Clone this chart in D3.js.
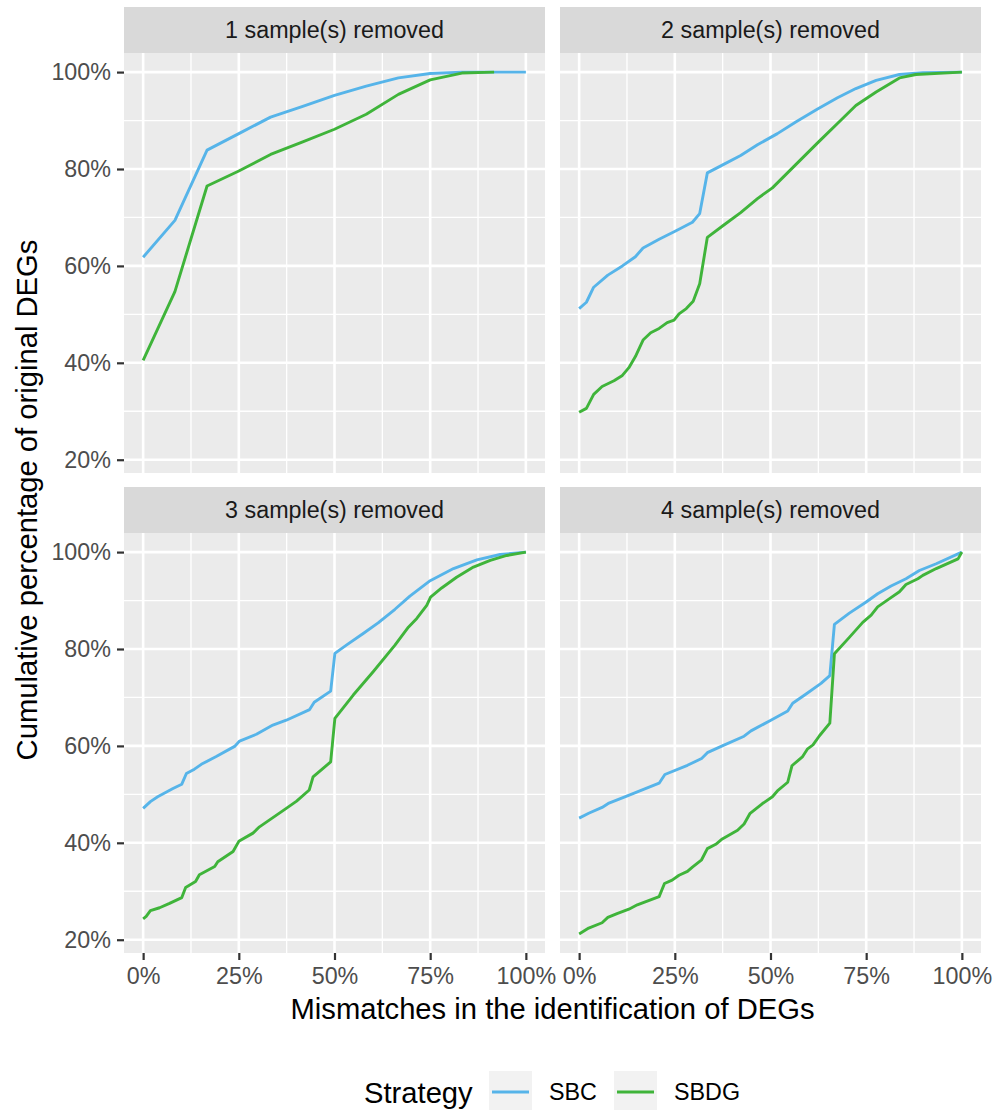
<!DOCTYPE html>
<html>
<head>
<meta charset="utf-8">
<script src="https://cdn.jsdelivr.net/npm/d3@7"></script>
<style>
  body { margin: 0; background: #fff; }
  text { font-family: "Liberation Sans", Arial, sans-serif; }
</style>
</head>
<body>
<div id="chart"></div>
<script>
// facet labels, series names, ticks
var facets = ["1 sample(s) removed", "2 sample(s) removed", "3 sample(s) removed", "4 sample(s) removed"];
var strategies = ["SBC", "SBDG"];
var colors = ["#56B4E9", "#3FB43A"];
var xTicks = [0, 25, 50, 75, 100];
var xMinor = [12.5, 37.5, 62.5, 87.5];
var yTicks = [20, 40, 60, 80, 100];
var yMinor = [30, 50, 70, 90];

// [mismatch %, cumulative %]
var sbc1 = [[0,61.8],[8.3,69.4],[16.7,83.9],[25,87.3],[33.3,90.7],[41.7,92.9],[50,95.2],[58.3,97.1],[66.7,98.8],[75,99.7],[83.3,100],[91.7,100],[100,100]];
var sbdg1 = [[0,40.5],[8.3,54.7],[16.7,76.5],[25,79.6],[33.3,83.0],[41.7,85.6],[50,88.2],[58.3,91.3],[66.7,95.4],[75,98.4],[83.3,99.8],[91.7,100]];

var sbc2 = [[0,51.2],[1.9,52.5],[3.8,55.6],[7.5,58.1],[11.3,60.0],[14.7,61.9],[16.7,63.7],[20.9,65.5],[25.2,67.2],[29.6,69.0],[31.5,70.8],[33.5,79.2],[37.4,80.8],[42.2,82.8],[46.6,85.0],[51.8,87.3],[56.6,89.7],[62.3,92.4],[67.5,94.7],[72.3,96.6],[77.6,98.3],[83.7,99.5],[89.8,99.9],[100,100]];
var sbdg2 = [[0,29.8],[1.9,30.6],[3.8,33.5],[6.0,35.1],[9.1,36.3],[11.3,37.4],[13.0,39.0],[14.7,41.3],[16.7,44.7],[18.7,46.2],[20.9,47.1],[23.0,48.3],[24.8,48.8],[26.1,50.1],[28.0,51.2],[29.8,52.7],[31.5,56.3],[33.5,65.9],[37.9,68.5],[42.2,71.0],[46.6,73.9],[50.5,76.1],[56.6,80.9],[62.7,85.7],[67.9,89.7],[72.3,93.1],[77.6,95.9],[83.7,98.8],[88.0,99.5],[100,100]];

var sbc3 = [[0,47.1],[1.9,48.5],[3.8,49.5],[7.8,51.2],[10.1,52.1],[11.3,54.3],[13.4,55.2],[15.2,56.2],[19.1,57.8],[23.9,59.9],[25.2,61.0],[29.6,62.4],[33.9,64.3],[37.4,65.3],[43.5,67.5],[44.7,69.0],[49.0,71.3],[50.1,79.1],[53.1,80.8],[57.5,83.2],[61.4,85.4],[65.8,88.2],[69.7,90.9],[75.0,94.1],[81.1,96.6],[87.2,98.4],[93.3,99.5],[100,100]];
var sbdg3 = [[0,24.3],[0.8,24.8],[1.9,26.0],[4.3,26.6],[6.9,27.5],[10.1,28.7],[11.1,30.8],[13.7,32.0],[14.7,33.4],[18.7,35.1],[19.5,36.1],[23.5,38.2],[25.0,40.3],[28.7,42.0],[30.4,43.3],[37.4,47.1],[40.1,48.6],[43.4,50.9],[44.4,53.6],[49.0,56.7],[50.1,65.7],[54.9,70.5],[60.1,75.3],[65.8,80.8],[69.3,84.5],[71.5,86.3],[74.1,89.0],[75.1,90.7],[78.0,92.6],[81.9,94.8],[86.3,96.9],[90.7,98.3],[95.0,99.3],[100,100]];

var sbc4 = [[0,45.1],[2.5,46.1],[6.0,47.3],[7.8,48.2],[12.6,49.7],[15.2,50.5],[20.9,52.3],[22.4,54.1],[28.3,56.0],[32.0,57.4],[33.5,58.6],[37.4,60.0],[43.1,62.0],[44.9,63.1],[50.1,65.3],[54.5,67.2],[55.8,68.8],[59.3,70.7],[63.2,72.9],[65.5,74.5],[66.7,85.1],[70.6,87.4],[75.0,89.7],[78.0,91.4],[81.5,93.0],[85.4,94.5],[88.9,96.2],[93.3,97.6],[100,100]];
var sbdg4 = [[0,21.2],[2.5,22.4],[6.0,23.5],[7.5,24.6],[9.9,25.4],[13.0,26.3],[15.2,27.2],[20.9,28.9],[22.3,31.6],[24.3,32.3],[26.1,33.3],[28.3,34.1],[29.6,35.0],[32.0,36.5],[33.5,38.8],[35.7,39.7],[37.4,40.8],[41.4,42.6],[43.1,43.9],[44.6,46.0],[47.9,48.1],[50.5,49.5],[51.8,50.7],[54.5,52.5],[55.6,55.9],[58.4,57.8],[59.7,59.4],[61.1,60.2],[62.8,62.1],[65.5,64.7],[66.7,79.0],[70.6,82.4],[74.1,85.5],[76.3,87.0],[78.0,88.7],[81.1,90.4],[83.7,91.8],[85.4,93.3],[88.5,94.5],[89.8,95.2],[93.3,96.6],[99.0,98.6],[100,100]];

var series = [[sbc1, sbdg1], [sbc2, sbdg2], [sbc3, sbdg3], [sbc4, sbdg4]];

// layout
var W = 997, H = 1110;
var panelW = 421, panelH = 420, stripH = 46;
var colX = [124, 560];
var rowY = [7, 487];   // top of strip
var smallFont = "23.3px", bigFont = "29.2px";

var svg = d3.select("#chart").append("svg")
    .attr("width", W)
    .attr("height", H);

// shared scales (ggplot fixed scales, 5% expansion)
var allY = [];
series.forEach(function(p){ p.forEach(function(s){ s.forEach(function(d){ allY.push(d[1]); }); }); });
var yMin = d3.min(allY), yMax = d3.max(allY);
var yPad = (yMax - yMin) * 0.05;

var line = d3.line();

facets.forEach(function(lab, i){
  var col = i % 2, row = Math.floor(i / 2);
  var left = colX[col], top = rowY[row] + stripH;

  var x = d3.scaleLinear().domain([-5, 105]).range([left, left + panelW]);
  var y = d3.scaleLinear().domain([yMin - yPad, yMax + yPad]).range([top + panelH, top]);

  var g = svg.append("g");

  // strip
  g.append("rect")
      .attr("x", left).attr("y", rowY[row])
      .attr("width", panelW).attr("height", stripH)
      .style("fill", "#D9D9D9");
  g.append("text")
      .attr("x", left + panelW / 2)
      .attr("y", rowY[row] + stripH / 2)
      .attr("dy", "0.36em")
      .attr("text-anchor", "middle")
      .style("font-size", smallFont)
      .style("fill", "#1A1A1A")
      .text(lab);

  // panel background
  g.append("rect")
      .attr("x", left).attr("y", top)
      .attr("width", panelW).attr("height", panelH)
      .style("fill", "#EBEBEB");

  // minor grid
  yMinor.forEach(function(v){
    g.append("line")
        .attr("x1", left).attr("x2", left + panelW)
        .attr("y1", y(v)).attr("y2", y(v))
        .style("stroke", "#fff").style("stroke-width", 1.3);
  });
  xMinor.forEach(function(v){
    g.append("line")
        .attr("x1", x(v)).attr("x2", x(v))
        .attr("y1", top).attr("y2", top + panelH)
        .style("stroke", "#fff").style("stroke-width", 1.3);
  });
  // major grid
  yTicks.forEach(function(v){
    g.append("line")
        .attr("x1", left).attr("x2", left + panelW)
        .attr("y1", y(v)).attr("y2", y(v))
        .style("stroke", "#fff").style("stroke-width", 2.6);
  });
  xTicks.forEach(function(v){
    g.append("line")
        .attr("x1", x(v)).attr("x2", x(v))
        .attr("y1", top).attr("y2", top + panelH)
        .style("stroke", "#fff").style("stroke-width", 2.6);
  });

  // lines
  series[i].forEach(function(s, k){
    g.append("path")
        .datum(s)
        .attr("d", line.x(function(d){ return x(d[0]); }).y(function(d){ return y(d[1]); }))
        .style("fill", "none")
        .style("stroke", colors[k])
        .style("stroke-width", 2.9)
        .style("stroke-linejoin", "round");
  });

  // y axis on left column
  if (col === 0) {
    var ya = g.append("g")
        .attr("transform", "translate(" + left + ",0)")
        .call(d3.axisLeft(y).tickValues(yTicks).tickSize(7).tickPadding(6)
              .tickFormat(function(d){ return d + "%"; }));
    ya.select(".domain").remove();
    ya.selectAll("line").style("stroke", "#333").style("stroke-width", 2.2);
    ya.selectAll("text").style("font-size", smallFont).style("fill", "#4D4D4D")
        .style("font-family", "Liberation Sans, Arial, sans-serif");
  }
  // x axis on bottom row
  if (row === 1) {
    var xa = g.append("g")
        .attr("transform", "translate(0," + (top + panelH) + ")")
        .call(d3.axisBottom(x).tickValues(xTicks).tickSize(7).tickPadding(7)
              .tickFormat(function(d){ return d + "%"; }));
    xa.select(".domain").remove();
    xa.selectAll("line").style("stroke", "#333").style("stroke-width", 2.2);
    xa.selectAll("text").style("font-size", smallFont).style("fill", "#4D4D4D")
        .style("font-family", "Liberation Sans, Arial, sans-serif");
  }
});

// axis titles
svg.append("text")
    .attr("x", (colX[0] + colX[1] + panelW) / 2)
    .attr("y", 1019)
    .attr("text-anchor", "middle")
    .style("font-size", bigFont)
    .style("fill", "#000")
    .text("Mismatches in the identification of DEGs");

svg.append("text")
    .attr("transform", "translate(37,500) rotate(-90)")
    .attr("text-anchor", "middle")
    .style("font-size", bigFont)
    .style("fill", "#000")
    .text("Cumulative percentage of original DEGs");

// legend
var legend = svg.append("g");
legend.append("text")
    .attr("x", 364).attr("y", 1103)
    .style("font-size", bigFont)
    .style("fill", "#000")
    .text("Strategy");

var keyX = [489, 614];
strategies.forEach(function(s, k){
  legend.append("rect")
      .attr("x", keyX[k]).attr("y", 1071)
      .attr("width", 43).attr("height", 43)
      .style("fill", "#F2F2F2");
  legend.append("line")
      .attr("x1", keyX[k] + 3).attr("x2", keyX[k] + 40)
      .attr("y1", 1092).attr("y2", 1092)
      .style("stroke", colors[k])
      .style("stroke-width", 2.9);
  legend.append("text")
      .attr("x", keyX[k] + 60).attr("y", 1092)
      .attr("dy", "0.36em")
      .style("font-size", smallFont)
      .style("fill", "#000")
      .text(s);
});
</script>
</body>
</html>
